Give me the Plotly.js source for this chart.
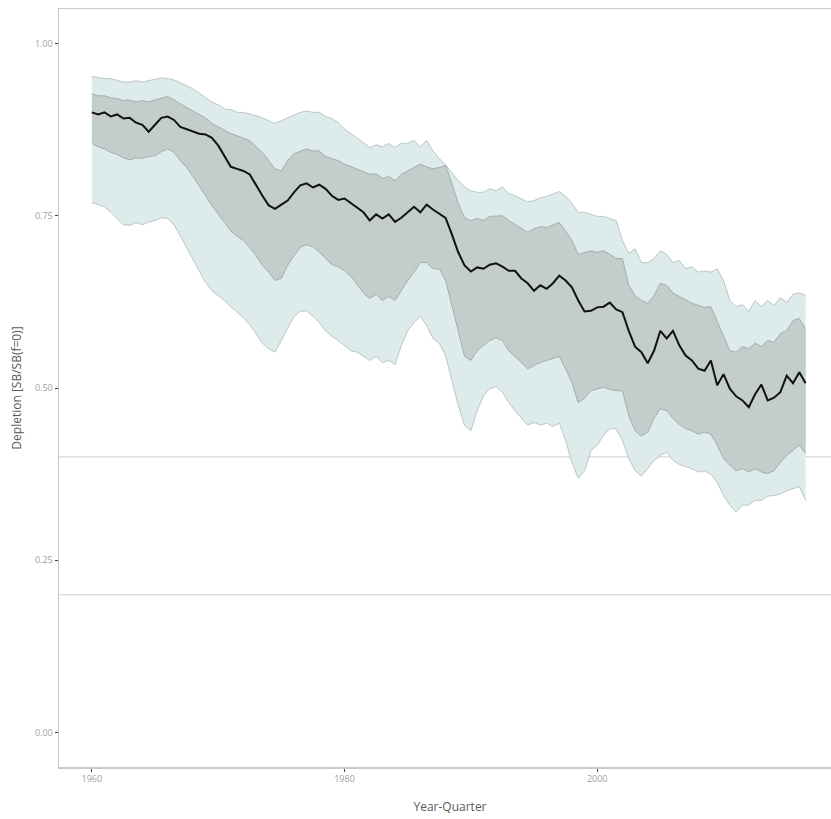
<!DOCTYPE html>
<html>
<head>
<meta charset="utf-8">
<script src="https://cdn.plot.ly/plotly-3.0.1.min.js"></script>
<style>
html,body{margin:0;padding:0;background:#fff;overflow:hidden;width:831px;height:819px;}
#chart{width:842px;height:819px;}
</style>
</head>
<body>
<div id="chart"></div>
<script>
const years = [
1960,1960.5,1961,1961.5,1962,1962.5,1963,1963.5,1964,1964.5,1965,1965.5,1966,1966.5,1967,1967.5,1968,1968.5,1969,1969.5,
1970,1970.5,1971,1971.5,1972,1972.5,1973,1973.5,1974,1974.5,1975,1975.5,1976,1976.5,1977,1977.5,1978,1978.5,1979,1979.5,
1980,1980.5,1981,1981.5,1982,1982.5,1983,1983.5,1984,1984.5,1985,1985.5,1986,1986.5,1987,1987.5,1988,1988.5,1989,1989.5,
1990,1990.5,1991,1991.5,1992,1992.5,1993,1993.5,1994,1994.5,1995,1995.5,1996,1996.5,1997,1997.5,1998,1998.5,1999,1999.5,
2000,2000.5,2001,2001.5,2002,2002.5,2003,2003.5,2004,2004.5,2005,2005.5,2006,2006.5,2007,2007.5,2008,2008.5,2009,2009.5,
2010,2010.5,2011,2011.5,2012,2012.5,2013,2013.5,2014,2014.5,2015,2015.5,2016,2016.5
];

const median = [
0.900,0.897,0.900,0.894,0.897,0.891,0.892,0.885,0.882,0.872,0.882,0.892,0.894,0.889,0.879,0.876,0.872,0.869,0.868,0.863,
0.852,0.837,0.821,0.818,0.815,0.810,0.794,0.779,0.765,0.760,0.766,0.772,0.784,0.794,0.797,0.791,0.795,0.789,0.779,0.773,
0.775,0.768,0.762,0.755,0.743,0.752,0.746,0.752,0.741,0.747,0.755,0.763,0.755,0.766,0.759,0.753,0.747,0.723,0.697,0.678,
0.669,0.675,0.673,0.679,0.681,0.676,0.670,0.670,0.659,0.652,0.641,0.649,0.644,0.652,0.663,0.656,0.646,0.627,0.611,0.612,
0.617,0.618,0.624,0.614,0.610,0.583,0.560,0.552,0.536,0.554,0.583,0.572,0.583,0.562,0.547,0.540,0.528,0.525,0.540,0.504,
0.520,0.499,0.488,0.482,0.472,0.491,0.505,0.482,0.486,0.494,0.518,0.507,0.523,0.507
];

const upperOuter = [
0.952,0.950,0.949,0.949,0.946,0.944,0.944,0.946,0.944,0.946,0.947,0.950,0.949,0.947,0.943,0.939,0.934,0.928,0.921,0.915,
0.911,0.905,0.904,0.900,0.900,0.898,0.895,0.892,0.888,0.884,0.888,0.892,0.897,0.900,0.902,0.900,0.900,0.894,0.891,0.885,
0.876,0.869,0.862,0.856,0.849,0.853,0.850,0.855,0.849,0.855,0.855,0.859,0.850,0.859,0.844,0.833,0.824,0.812,0.801,0.792,
0.786,0.784,0.784,0.789,0.786,0.792,0.782,0.779,0.775,0.770,0.772,0.776,0.778,0.781,0.785,0.778,0.768,0.755,0.755,0.752,
0.749,0.749,0.746,0.743,0.714,0.695,0.702,0.682,0.682,0.688,0.699,0.694,0.682,0.685,0.673,0.676,0.668,0.670,0.668,0.673,
0.656,0.627,0.618,0.621,0.611,0.627,0.618,0.627,0.620,0.631,0.624,0.636,0.638,0.634
];

const upperInner = [
0.927,0.924,0.924,0.921,0.920,0.917,0.918,0.915,0.917,0.915,0.918,0.921,0.923,0.918,0.912,0.907,0.902,0.897,0.892,0.884,
0.879,0.873,0.869,0.866,0.862,0.859,0.850,0.842,0.830,0.818,0.815,0.830,0.840,0.844,0.847,0.844,0.844,0.836,0.833,0.830,
0.825,0.821,0.818,0.814,0.810,0.811,0.804,0.807,0.801,0.810,0.815,0.821,0.825,0.821,0.818,0.820,0.823,0.797,0.768,0.747,
0.743,0.746,0.743,0.749,0.749,0.750,0.743,0.737,0.731,0.726,0.731,0.734,0.733,0.737,0.740,0.728,0.714,0.694,0.697,0.699,
0.697,0.699,0.694,0.688,0.688,0.649,0.634,0.627,0.623,0.634,0.652,0.649,0.638,0.633,0.627,0.623,0.620,0.617,0.618,0.598,
0.576,0.554,0.552,0.560,0.557,0.565,0.560,0.569,0.566,0.579,0.583,0.598,0.601,0.586
];

const lowerInner = [
0.855,0.850,0.847,0.842,0.839,0.834,0.831,0.834,0.833,0.836,0.837,0.843,0.847,0.842,0.830,0.820,0.807,0.792,0.779,0.765,
0.752,0.740,0.728,0.720,0.714,0.704,0.692,0.678,0.668,0.656,0.659,0.678,0.692,0.704,0.708,0.705,0.697,0.688,0.679,0.676,
0.670,0.662,0.650,0.638,0.630,0.636,0.627,0.633,0.627,0.641,0.656,0.668,0.682,0.682,0.673,0.673,0.656,0.620,0.581,0.546,
0.540,0.554,0.562,0.569,0.573,0.569,0.554,0.546,0.537,0.528,0.533,0.537,0.540,0.543,0.546,0.528,0.508,0.479,0.485,0.496,
0.499,0.501,0.498,0.496,0.496,0.460,0.438,0.430,0.436,0.456,0.470,0.467,0.456,0.447,0.441,0.438,0.433,0.436,0.433,0.417,
0.398,0.388,0.380,0.383,0.378,0.383,0.378,0.376,0.380,0.392,0.402,0.409,0.417,0.405
];

const lowerOuter = [
0.769,0.766,0.763,0.755,0.746,0.737,0.736,0.740,0.737,0.741,0.743,0.747,0.746,0.737,0.721,0.704,0.685,0.668,0.653,0.641,
0.634,0.627,0.618,0.610,0.602,0.592,0.578,0.565,0.557,0.552,0.569,0.586,0.604,0.611,0.612,0.604,0.595,0.583,0.575,0.569,
0.562,0.554,0.552,0.546,0.540,0.546,0.537,0.540,0.534,0.562,0.583,0.595,0.604,0.591,0.572,0.565,0.547,0.511,0.475,0.446,
0.438,0.467,0.489,0.499,0.502,0.494,0.479,0.467,0.456,0.446,0.450,0.446,0.449,0.444,0.449,0.424,0.392,0.369,0.380,0.409,
0.417,0.431,0.441,0.441,0.424,0.398,0.380,0.372,0.383,0.395,0.402,0.407,0.395,0.389,0.386,0.383,0.378,0.380,0.375,0.363,
0.344,0.330,0.320,0.330,0.330,0.337,0.337,0.343,0.344,0.346,0.351,0.354,0.357,0.337
];

const refLines = [0.4, 0.2];
const yTicks = [0, 0.25, 0.5, 0.75, 1.0];
const xTicks = [1960, 1980, 2000];

const outerFill = '#deebeb';
const outerEdge = '#bcc6c6';
const innerFill = '#c3cdcc';
const innerEdge = '#a3adac';

const traces = [
  {x: years, y: lowerOuter, type: 'scatter', mode: 'lines', line: {color: outerEdge, width: 1}, hoverinfo: 'skip', showlegend: false},
  {x: years, y: upperOuter, type: 'scatter', mode: 'lines', fill: 'tonexty', fillcolor: outerFill, line: {color: outerEdge, width: 1}, hoverinfo: 'skip', showlegend: false},
  {x: years, y: lowerInner, type: 'scatter', mode: 'lines', line: {color: innerEdge, width: 1}, hoverinfo: 'skip', showlegend: false},
  {x: years, y: upperInner, type: 'scatter', mode: 'lines', fill: 'tonexty', fillcolor: innerFill, line: {color: innerEdge, width: 1}, hoverinfo: 'skip', showlegend: false},
  {x: years, y: median, type: 'scatter', mode: 'lines', line: {color: '#111111', width: 2}, showlegend: false}
];

const shapes = refLines.map(v => ({
  type: 'line', xref: 'paper', yref: 'y', x0: 0, x1: 1, y0: v, y1: v,
  line: {color: '#cccccc', width: 1}, layer: 'below'
}));

const layout = {
  width: 842, height: 819,
  margin: {l: 59, r: 1, t: 9, b: 52},
  paper_bgcolor: '#ffffff', plot_bgcolor: '#ffffff',
  font: {family: 'Open Sans, sans-serif', color: '#999999', size: 9},
  showlegend: false,
  shapes: shapes,
  xaxis: {
    range: [1957.4, 2019.3],
    tickvals: xTicks, ticktext: xTicks.map(String),
    ticks: 'outside', ticklen: 3, tickcolor: '#444444', tickwidth: 1,
    tickfont: {family: 'Open Sans, sans-serif', size: 9, color: '#a0a0a0'},
    showgrid: false, zeroline: false,
    showline: true, linecolor: '#c9c9c9', linewidth: 1.5, mirror: true,
    title: {text: 'Year-Quarter', font: {family: 'Open Sans, sans-serif', size: 12, color: '#5a5a5a'}, standoff: 18}
  },
  yaxis: {
    range: [-0.05, 1.05],
    tickvals: yTicks, tickformat: '.2f',
    ticks: 'outside', ticklen: 3, tickcolor: '#444444', tickwidth: 1,
    tickfont: {family: 'Open Sans, sans-serif', size: 9, color: '#a0a0a0'},
    showgrid: false, zeroline: false,
    showline: true, linecolor: '#c9c9c9', linewidth: 1.5, mirror: true,
    title: {text: 'Depletion [SB/SB(f=0)]', font: {family: 'Open Sans, sans-serif', size: 12, color: '#5a5a5a'}, standoff: 10}
  }
};

Plotly.newPlot('chart', traces, layout, {displayModeBar: false, staticPlot: true});
</script>
</body>
</html>
